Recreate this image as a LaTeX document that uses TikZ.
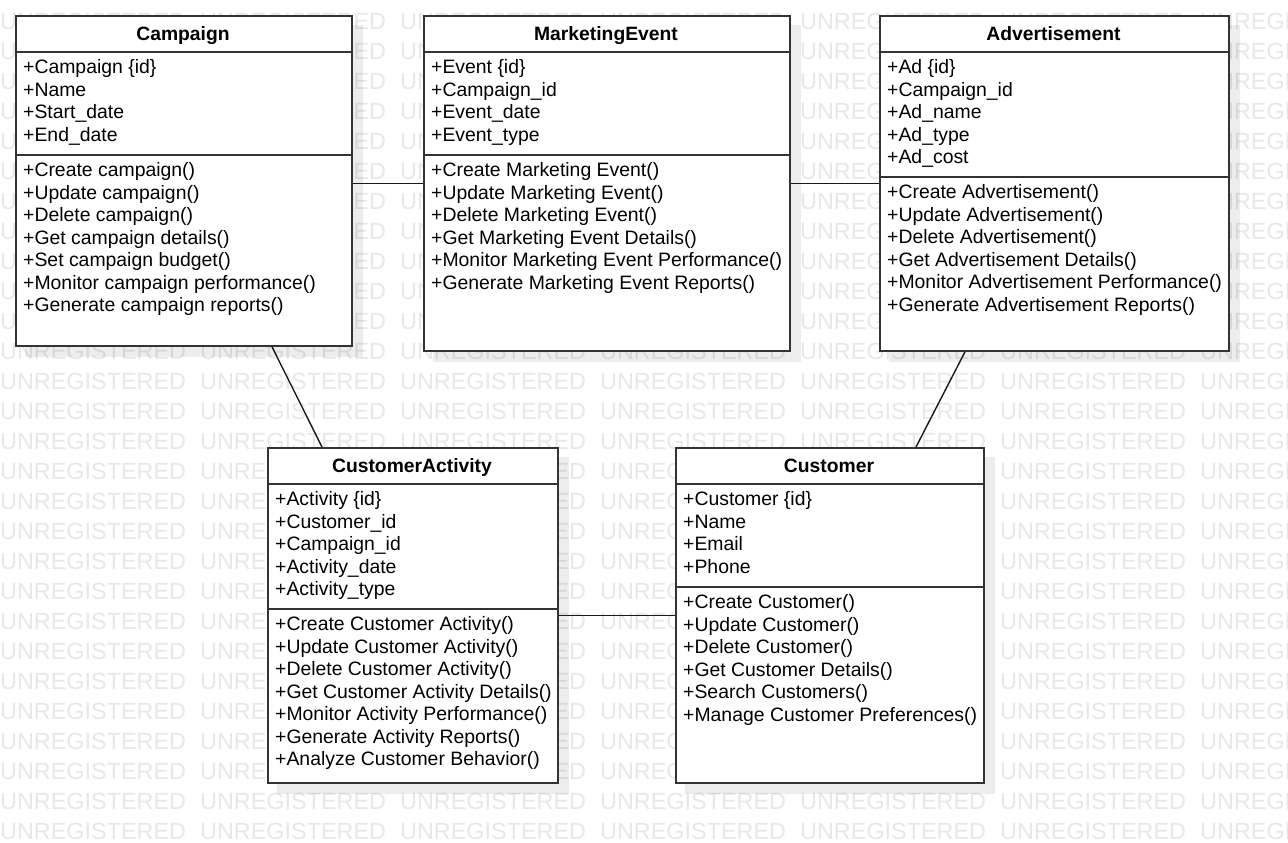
\documentclass[tikz,border=0pt]{standalone}
\usepackage{fontspec}
\setmainfont{Liberation Sans}
\usetikzlibrary{calc}
\pgfdeclarelayer{paper}
\pgfdeclarelayer{marks}
\pgfdeclarelayer{shadows}
\pgfsetlayers{paper,marks,shadows,main}

% #1 name, #2 left, #3 top, #4 right, #5 bottom, #6 title,
% #7 y of the rule above the operations, #8 attributes, #9 operations
\newcommand\umlclass[9]{%
  \node[classframe, anchor=north west,
        minimum width={#4-#2}, minimum height={#5-#3}] (#1) at (#2,#3) {};
  \begin{pgfonlayer}{shadows}
    \fill[dropshadow] ($(#1.north west)+(10,10)$) rectangle ($(#1.south east)+(10,10)$);
  \end{pgfonlayer}
  \draw[classrule] (#2,{#3+37}) -- (#4,{#3+37});
  \draw[classrule] (#2,#7) -- (#4,#7);
  \node[classtitle] (#1-title) at ({(#2+#4)/2},{#3+25.5}) {#6};
  \foreach \t [count=\i] in {#8}
    \node[member] (#1-a\i) at ({#2+8},{#3+58.5+(\i-1)*22.5}) {\t};
  \foreach \t [count=\i] in {#9}
    \node[member] (#1-o\i) at ({#2+8},{#7+21.5+(\i-1)*22.5}) {\t};
}

\begin{document}
\begin{tikzpicture}[x=1pt,y=-1pt,
  classframe/.style={draw=black!80, line width=1.8pt, fill=white, inner sep=0pt},
  classrule/.style={draw=black!80, line width=1.6pt},
  dropshadow/.style={fill=black, opacity=0.07},
  link/.style={draw=black!90, line width=1.4pt},
  wmtext/.style={text=black!9, font=\fontsize{23.4}{23.4}\selectfont,
                 inner sep=0pt, anchor=west},
  classtitle/.style={font=\bfseries\fontsize{19.3}{19.3}\selectfont,
                     inner sep=0pt, anchor=base},
  member/.style={font=\fontsize{19.4}{19.4}\selectfont, inner sep=0pt, anchor=base west},
]
\useasboundingbox (0,0) rectangle (1288,843);

\begin{pgfonlayer}{paper}
  \fill[white] (0,0) rectangle (1288,843);
\end{pgfonlayer}

% tiled watermark
\begin{pgfonlayer}{marks}
  \begin{scope}
    \clip (0,0) rectangle (1288,843);
    \foreach \r in {0,...,27}
      \foreach \c in {0,...,6}
        \node[wmtext] (wm-\r-\c) at ({\c*200},{21+\r*30}) {UNREGISTERED};
  \end{scope}
\end{pgfonlayer}

\umlclass{camp}{15}{15}{351}{345}{Campaign}{155}
  {+Campaign \{id\}, +Name, +Start\_date, +End\_date}
  {+Create campaign(), +Update campaign(), +Delete campaign(),
   +Get campaign details(), +Set campaign budget(),
   +Monitor campaign performance(), +Generate campaign reports()}

\umlclass{mkt}{423}{15}{789}{350}{MarketingEvent}{155}
  {+Event \{id\}, +Campaign\_id, +Event\_date, +Event\_type}
  {+Create Marketing Event(), +Update Marketing Event(),
   +Delete Marketing Event(), +Get Marketing Event Details(),
   +Monitor Marketing Event Performance(), +Generate Marketing Event Reports()}

\umlclass{adv}{879}{15}{1228}{350}{Advertisement}{177}
  {+Ad \{id\}, +Campaign\_id, +Ad\_name, +Ad\_type, +Ad\_cost}
  {+Create Advertisement(), +Update Advertisement(), +Delete Advertisement(),
   +Get Advertisement Details(), +Monitor Advertisement Performance(),
   +Generate Advertisement Reports()}

\umlclass{act}{267}{447}{557}{782}{CustomerActivity}{609}
  {+Activity \{id\}, +Customer\_id, +Campaign\_id, +Activity\_date, +Activity\_type}
  {+Create Customer Activity(), +Update Customer Activity(),
   +Delete Customer Activity(), +Get Customer Activity Details(),
   +Monitor Activity Performance(), +Generate Activity Reports(),
   +Analyze Customer Behavior()}

\umlclass{cust}{675}{447}{983}{782}{Customer}{587}
  {+Customer \{id\}, +Name, +Email, +Phone}
  {+Create Customer(), +Update Customer(), +Delete Customer(),
   +Get Customer Details(), +Search Customers(),
   +Manage Customer Preferences()}

% associations
\draw[link] (camp.east |- mkt.west) -- (mkt.west);
\draw[link] (mkt.east) -- (adv.west);
\draw[link] ([xshift=257pt]camp.south west) -- ([xshift=55pt]act.north west);
\draw[link] ([xshift=86pt]adv.south west) -- ([xshift=241pt]cust.north west);
\draw[link] (act.east) -- (cust.west);
\end{tikzpicture}
\end{document}
